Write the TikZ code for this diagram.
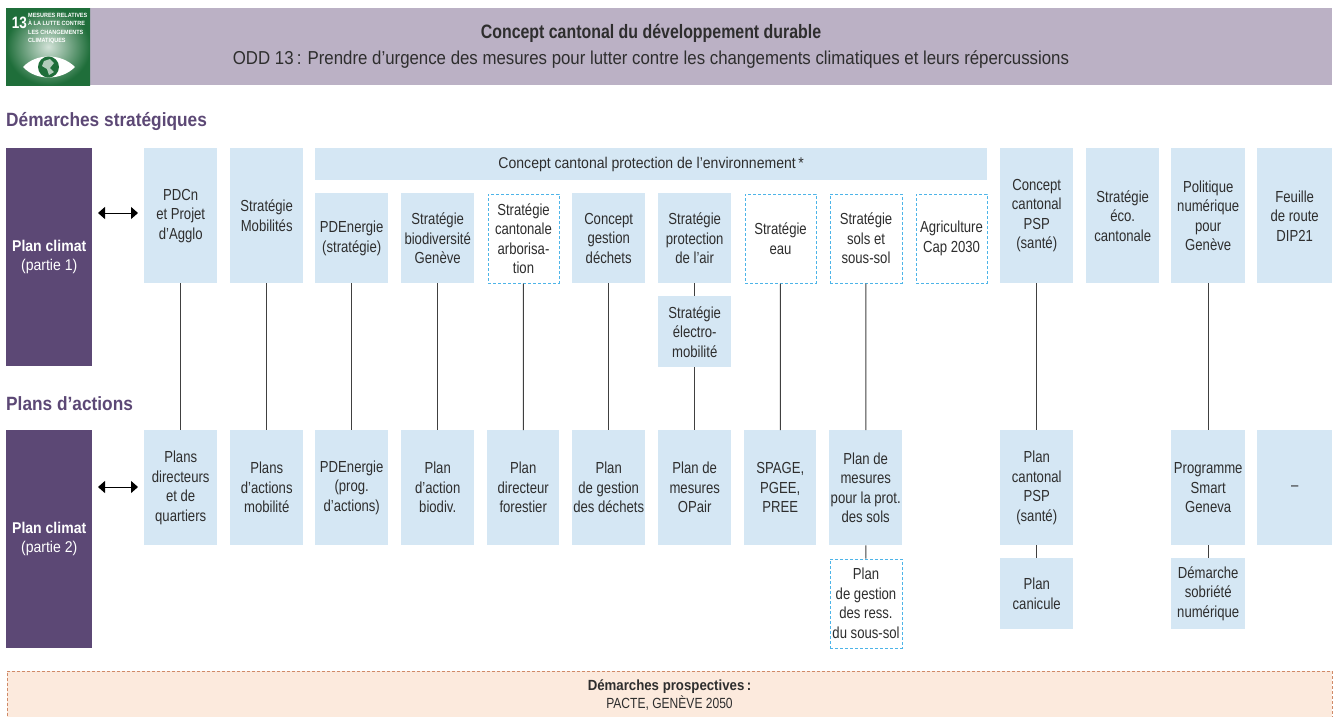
\documentclass[tikz,border=0pt]{standalone}
\usepackage{fontspec}
\setmainfont[FakeStretch=0.9]{Liberation Sans}
\newfontfamily\boxfont[FakeStretch=0.82]{Liberation Sans}
\usetikzlibrary{arrows.meta, calc}
\definecolor{bluebox}{HTML}{D5E7F4}
\definecolor{bluedash}{HTML}{4DB4E8}
\definecolor{purplebar}{HTML}{5C4875}
\definecolor{purplehead}{HTML}{BBB1C5}
\definecolor{orangebox}{HTML}{FCEADD}
\definecolor{orangedash}{HTML}{D08A68}
\definecolor{greenlogo}{HTML}{1F6E3A}
\definecolor{textgrey}{HTML}{2E2E2E}
\tikzset{
  base/.style={anchor=north west, align=center, inner sep=0pt, text=textgrey, font=\fontsize{15.6}{19.5}\selectfont},
  solidbox/.style={base, fill=bluebox, font=\boxfont\fontsize{16}{19.5}\selectfont},
  dashbox/.style={solidbox, fill=white, draw=bluedash, line width=1pt, dash pattern=on 3pt off 2pt},
  wideband/.style={base, fill=bluebox},
  climat/.style={base, fill=purplebar, text=white, minimum width=86pt, minimum height=218pt},
  heading/.style={anchor=west, inner sep=0pt, text=purplebar, font=\fontsize{19.2}{22}\selectfont\bfseries},
  link/.style={draw=black!75, line width=1pt},
  twohead/.style={{Stealth[length=7pt,width=12pt,inset=0pt]}-{Stealth[length=7pt,width=12pt,inset=0pt]}, draw=black, line width=1pt}
}
\newcommand{\bx}[7][solidbox]{% style, name, x1, y1, x2, y2, text
  \node[#1, minimum width=#5pt-#3pt, minimum height=#6pt-#4pt] (#2) at (#3,#4) {#7};}
\begin{document}
\begin{tikzpicture}[x=1pt,y=-1pt]
  \useasboundingbox (0,0) rectangle (1337,716);

  % header
  \node[base, fill=purplehead, minimum width=1326pt, minimum height=77pt] (head) at (6,8) {};
  \node[base, font=\fontsize{18.7}{26}\selectfont] (headtxt) at (651,46.5) [anchor=center]
    {{\boxfont\fontsize{19.4}{26}\selectfont\bfseries Concept cantonal du développement durable}\\ODD 13\,: Prendre d’urgence des mesures pour lutter contre les changements climatiques et leurs répercussions};

  % logo
  \node[base, minimum width=84pt, minimum height=77pt, inner color=greenlogo!20!white, outer color=greenlogo] (logo) at (6,8) {};
  \node[base, anchor=center, text=white, font=\boxfont\fontsize{16.5}{18}\selectfont\bfseries] (ln) at (19.5,23) {13};
  \node[base, anchor=north west, align=left, text=white, font=\fontsize{6.1}{8.5}\selectfont\bfseries] (lt) at (28,13)
    {MESURES RELATIVES\\À LA LUTTE CONTRE\\LES CHANGEMENTS\\CLIMATIQUES};
  \fill[white] (23,67) .. controls (36,53) and (61,53) .. (75,67) .. controls (61,81) and (36,81) .. (23,67) -- cycle;
  \node[circle, fill=greenlogo, inner sep=0pt, minimum size=21pt] (globe) at (48.5,67) {};
  \fill[greenlogo!35!white] (44,61) -- (50,59) -- (54,63) -- (50,68) -- (54,72) -- (49,75) -- (47,69) -- (42,66) -- cycle;

  \node[heading] (strat) at (6,121) {Démarches stratégiques};
  \node[heading] (act) at (6,404) {Plans d’actions};

  % plan climat
  \node[climat] (pc1) at (6,148) {\textbf{Plan climat}\\(partie 1)};
  \node[climat] (pc2) at (6,430) {\textbf{Plan climat}\\(partie 2)};

  % top row
  \bx{t1}{144}{148}{217}{283}{PDCn\\et Projet\\d’Agglo}
  \bx{t2}{230}{148}{303}{283}{Stratégie\\Mobilités}
  \bx[wideband]{band}{315}{148}{987}{180}{Concept cantonal protection de l’environnement\,*}
  \bx{t3}{315}{193}{388}{283}{PDEnergie\\(stratégie)}
  \bx{t4}{401}{193}{474}{283}{Stratégie\\biodiversité\\Genève}
  \bx[dashbox]{t5}{487.5}{193.5}{558.5}{282.5}{Stratégie\\cantonale\\arborisa-\\tion}
  \bx{t6}{572}{193}{645}{283}{Concept\\gestion\\déchets}
  \bx{t7}{658}{193}{731}{283}{Stratégie\\protection\\de l’air}
  \bx{t7b}{658}{296}{731}{367}{Stratégie\\électro-\\mobilité}
  \bx[dashbox]{t8}{744.5}{193.5}{815.5}{282.5}{Stratégie\\eau}
  \bx[dashbox]{t9}{829.5}{193.5}{901.5}{282.5}{Stratégie\\sols et\\sous-sol}
  \bx[dashbox]{t10}{915.5}{193.5}{986.5}{282.5}{Agriculture\\Cap 2030}
  \bx{t11}{1000}{148}{1073}{283}{Concept\\cantonal\\PSP\\(santé)}
  \bx{t12}{1086}{148}{1159}{283}{Stratégie\\éco.\\cantonale}
  \bx{t13}{1171}{148}{1245}{283}{Politique\\numérique\\pour\\Genève}
  \bx{t14}{1257}{148}{1332}{283}{Feuille\\de route\\DIP21}

  % bottom row
  \bx{b1}{144}{430}{217}{545}{Plans\\directeurs\\et de\\quartiers}
  \bx{b2}{230}{430}{303}{545}{Plans\\d’actions\\mobilité}
  \bx{b3}{315}{430}{388}{545}{PDEnergie\\(prog.\\d’actions)}
  \bx{b4}{401}{430}{474}{545}{Plan\\d’action\\biodiv.}
  \bx{b5}{487}{430}{559}{545}{Plan\\directeur\\forestier}
  \bx{b6}{572}{430}{645}{545}{Plan\\de gestion\\des déchets}
  \bx{b7}{658}{430}{731}{545}{Plan de\\mesures\\OPair}
  \bx{b8}{744}{430}{816}{545}{SPAGE,\\PGEE,\\PREE}
  \bx{b9}{829}{430}{902}{545}{Plan de\\mesures\\pour la prot.\\des sols}
  \bx[dashbox]{b9b}{829.5}{558.5}{901.5}{647.5}{Plan\\de gestion\\des ress.\\du sous-sol}
  \bx{b11}{1000}{430}{1073}{545}{Plan\\cantonal\\PSP\\(santé)}
  \bx{b11b}{1000}{558}{1073}{629}{Plan\\canicule}
  \bx{b13}{1171}{430}{1245}{545}{Programme\\Smart\\Geneva}
  \bx{b13b}{1171}{558}{1245}{629}{Démarche\\sobriété\\numérique}
  \bx{b14}{1257}{430}{1332}{545}{–}

  % prospective band
  \node[base, fill=orangebox, draw=orangedash, line width=1pt, dash pattern=on 3pt off 2pt,
        minimum width=1325pt, minimum height=48pt, font=\fontsize{14.7}{18}\selectfont] (prosp) at (6.5,670.5)
    {\textbf{Démarches prospectives\,:}\\{\boxfont PACTE, GENÈVE 2050}};

  % links
  \path[link]
    (t1) edge (b1)
    (t2) edge (b2)
    (t3) edge (b3)
    (t4) edge (b4)
    (t5) edge (b5)
    (t6) edge (b6)
    (t7) edge (t7b)
    (t7b) edge (b7)
    (t8) edge (b8)
    (t9) edge (b9)
    (b9) edge (b9b)
    (t11) edge (b11)
    (b11) edge (b11b)
    (t13) edge (b13)
    (b13) edge (b13b);

  % arrows
  \coordinate (a1l) at (98,213);
  \coordinate (a1r) at (138,213);
  \coordinate (a2l) at (98,487);
  \coordinate (a2r) at (138,487);
  \draw[twohead] (a1l) -- (a1r);
  \draw[twohead] (a2l) -- (a2r);
\end{tikzpicture}
\end{document}
